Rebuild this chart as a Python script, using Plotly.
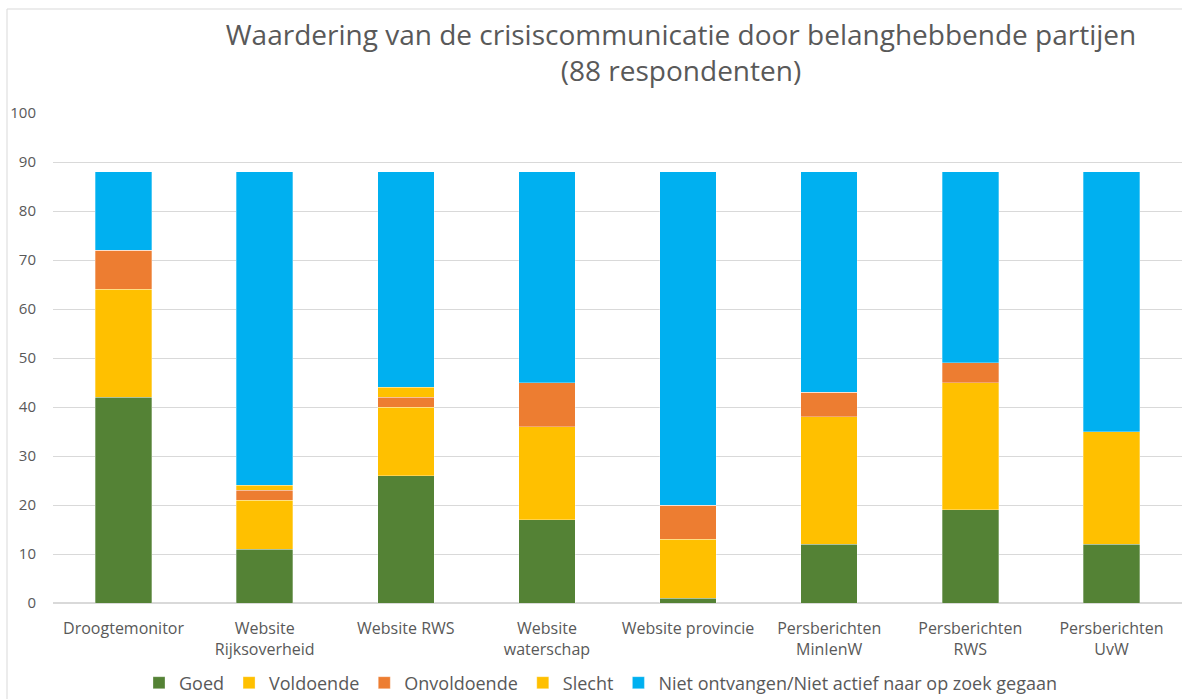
import plotly.graph_objects as go

categories = ["Droogtemonitor", "Website<br>Rijksoverheid", "Website RWS", "Website<br>waterschap",
              "Website provincie", "Persberichten<br>MinIenW", "Persberichten<br>RWS", "Persberichten<br>UvW"]
goed = [42, 11, 26, 17, 1, 12, 19, 12]
voldoende = [22, 10, 14, 19, 12, 26, 26, 23]
onvoldoende = [8, 2, 2, 9, 7, 5, 4, 0]
slecht = [0, 1, 2, 0, 0, 0, 0, 0]
niet = [16, 64, 44, 43, 68, 45, 39, 53]

series = [
    ("Goed", goed, "#548235"),
    ("Voldoende", voldoende, "#FFC000"),
    ("Onvoldoende", onvoldoende, "#ED7D31"),
    ("Slecht", slecht, "#FFC000"),
    ("Niet ontvangen/Niet actief naar op zoek gegaan", niet, "#00B0F0"),
]

fig = go.Figure()
for name, vals, col in series:
    fig.add_trace(go.Bar(x=categories, y=vals, name=name, marker_color=col,
                         marker_line_width=0.6, marker_line_color="rgba(255,255,255,0.5)"))

W, H = 1182, 699
L, R, T, B = 53, 0, 113, 96
PW, PH = W - L - R, H - T - B
font_main = "Open Sans, Calibri, sans-serif"
fig.update_layout(
    barmode="stack",
    bargap=0.6,
    width=W, height=H,
    margin=dict(l=L, r=R, t=T, b=B),
    paper_bgcolor="white", plot_bgcolor="white",
    title=dict(text="Waardering van de crisiscommunicatie door belanghebbende partijen<br>(88 respondenten)",
               x=681/W, xanchor="center", xref="container", y=1-45/H, yanchor="middle",
               font=dict(family=font_main, size=28, color="#595959")),
    legend=dict(orientation="h", x=601/W, xanchor="center", xref="container", y=(H-683)/H, yref="container",
                yanchor="middle",
                font=dict(family=font_main, size=18, color="#595959"), traceorder="normal"),
    font=dict(family=font_main, color="#595959"),
    showlegend=True,
)
fig.update_yaxes(range=[0, 100], dtick=10, showgrid=True, gridcolor="#d9d9d9", gridwidth=1,
                 zeroline=True, zerolinecolor="#d9d9d9", showline=False,
                 tickfont=dict(family=font_main, size=15, color="#595959"), ticks="", ticklabelstandoff=16)
fig.update_xaxes(showgrid=False, showline=False, ticks="", ticklabelstandoff=14,
                 tickfont=dict(family=font_main, size=16, color="#595959"))

# chart border (Excel chart-area outline): left edge at x=7, top edge at y=9
fig.add_shape(type="rect", xref="paper", yref="paper",
              x0=(7 - L)/PW, x1=(W + 100 - L)/PW, y0=-(B + 100)/PH, y1=(H - B - 9)/PH,
              line=dict(color="#d9d9d9", width=1), fillcolor="rgba(0,0,0,0)", layer="below")

fig.write_html("out.html", config={"displayModeBar": False},
               post_script="document.body.style.margin='0';document.body.style.overflow='hidden';")
